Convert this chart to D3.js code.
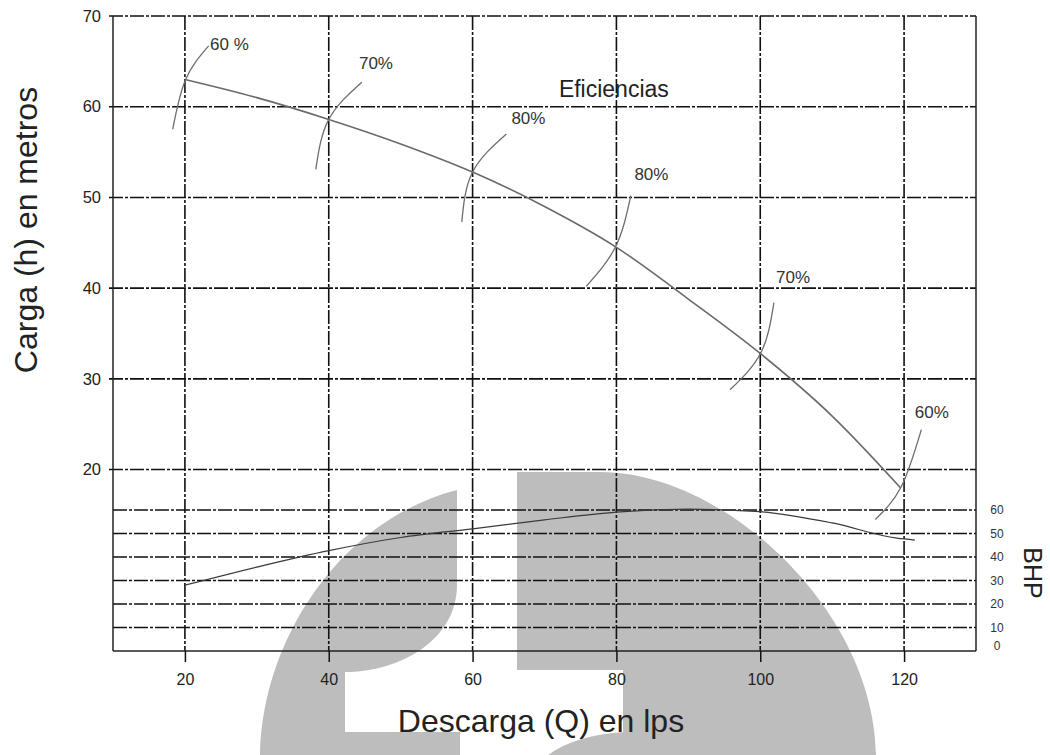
<!DOCTYPE html>
<html>
<head>
<meta charset="utf-8">
<script src="https://cdn.jsdelivr.net/npm/d3@7"></script>
<style>
  html, body { margin: 0; padding: 0; background: #fff; }
  svg { display: block; font-family: "Liberation Sans", Arial, Helvetica, sans-serif; }
</style>
</head>
<body>
<svg id="chart" width="1050" height="755"></svg>
<script>
// ---- Pump characteristic data ----
const qTicks    = [20, 40, 60, 80, 100, 120];          // discharge, lps
const headTicks = [20, 30, 40, 50, 60, 70];            // head, m
const bhpTicks  = [0, 10, 20, 30, 40, 50, 60];         // brake horsepower

// Head curve H(Q)
const headQ = [20, 30, 40, 50, 60, 70, 80, 90, 100, 110, 119.5];
const headH = [63.0, 61.0, 58.6, 55.9, 52.8, 49.0, 44.5, 38.8, 32.8, 25.9, 18.0];

// Power curve BHP(Q)
const bhpQ = [20, 30, 40, 50, 60, 70, 80, 90, 100, 110, 119, 121.5];
const bhpV = [28.0, 35.7, 42.7, 48.3, 52.0, 55.8, 59.1, 60.4, 59.3, 54.5, 48.0, 47.2];

// Efficiency arcs crossing the head curve: [Q, H] points of each arc
const effArcs = [
  [[18.3, 57.5], [20.1, 63.0], [23.3, 66.7]],
  [[38.2, 53.1], [40.0, 58.6], [44.6, 62.7]],
  [[58.5, 47.3], [60.0, 52.8], [64.7, 57.0]],
  [[75.8, 40.2], [79.9, 44.6], [82.0, 50.2]],
  [[95.8, 28.8], [100.1, 32.9], [101.9, 38.4]],
  [[116.0, 14.5], [119.6, 18.1], [122.4, 24.4]]
];
const effLabels = ["60 %", "70%", "80%", "80%", "70%", "60%"];
const effLabelQ = [23.5, 44.2, 65.4, 82.5, 102.2, 121.5];
const effLabelH = [66.9, 64.8, 58.7, 52.6, 41.2, 26.3];

// ---- Layout ----
const plot = { left: 113, right: 976, top: 16, bottom: 651, bhpTop: 510 };
const svg = d3.select("#chart");

const x  = d3.scaleLinear().domain([10, 130]).range([plot.left, plot.right]);
const yH = d3.scaleLinear().domain([0, 70]).range([plot.bottom, plot.top]);
const yB = d3.scaleLinear().domain([0, 60]).range([plot.bottom, plot.bhpTop]);

// ---- Background logo (decorative, grey) ----
const logo = svg.append("g").attr("fill", "#bdbdbd");
logo.append("path").attr("d",
  "M260,755 C262,640 340,520 457,490 L457,585 C457,640 400,672 345,672 L345,732 L460,732 L460,755 Z");
logo.append("path").attr("d",
  "M517,472 L600,472 C725,472 874,610 876,755 L623,755 L623,670 L517,670 Z");
logo.append("path").attr("d",
  "M548,755 Q575,735 625,732 L625,755 Z");

// ---- Grid ----
const gridStyle = sel => sel
  .attr("stroke", "#111")
  .attr("stroke-width", 1.6)
  .attr("stroke-dasharray", "14,2,3,2")
  .attr("fill", "none");

const grid = svg.append("g");
grid.selectAll("line.hg").data(headTicks).join("line")
  .attr("class", "hg")
  .attr("x1", plot.left - 4).attr("x2", plot.right)
  .attr("y1", d => yH(d)).attr("y2", d => yH(d))
  .call(gridStyle);
grid.selectAll("line.bg").data(bhpTicks.filter(d => d > 0)).join("line")
  .attr("class", "bg")
  .attr("x1", plot.left).attr("x2", plot.right)
  .attr("y1", d => yB(d)).attr("y2", d => yB(d))
  .call(gridStyle);
grid.selectAll("line.vg").data(qTicks).join("line")
  .attr("class", "vg")
  .attr("x1", d => x(d)).attr("x2", d => x(d))
  .attr("y1", plot.top).attr("y2", plot.bottom)
  .call(gridStyle);

// Frame
const frame = svg.append("g").attr("stroke", "#222").attr("stroke-width", 1.5).attr("fill", "none");
frame.append("line").attr("x1", plot.left).attr("x2", plot.left).attr("y1", plot.top).attr("y2", plot.bottom);
frame.append("line").attr("x1", plot.right).attr("x2", plot.right).attr("y1", plot.top).attr("y2", plot.bottom);
frame.append("line").attr("x1", plot.left).attr("x2", plot.right).attr("y1", plot.bottom).attr("y2", plot.bottom);

// ---- Axes ----
const xAxis = svg.append("g")
  .attr("transform", `translate(0,${plot.bottom})`)
  .call(d3.axisBottom(x).tickValues(qTicks).tickSize(11).tickPadding(12));
xAxis.select(".domain").remove();
xAxis.selectAll(".tick line").attr("stroke", "#111").attr("stroke-width", 1.5);
xAxis.selectAll(".tick text").attr("font-size", 16).attr("fill", "#222")
  .attr("font-family", "Liberation Sans, Arial, sans-serif");

const yAxis = svg.append("g")
  .attr("transform", `translate(${plot.left},0)`)
  .call(d3.axisLeft(yH).tickValues(headTicks).tickSize(0).tickPadding(12));
yAxis.select(".domain").remove();
yAxis.selectAll(".tick text").attr("font-size", 16.5).attr("fill", "#222")
  .attr("font-family", "Liberation Sans, Arial, sans-serif");

const bAxis = svg.append("g")
  .attr("transform", `translate(${plot.right},0)`)
  .call(d3.axisRight(yB).tickValues(bhpTicks).tickSize(0).tickPadding(21));
bAxis.select(".domain").remove();
bAxis.selectAll(".tick text")
  .attr("font-size", 12).attr("fill", "#333")
  .attr("text-anchor", "middle")
  .attr("font-family", "Liberation Sans, Arial, sans-serif")
  .attr("dy", d => d === 0 ? "-0.15em" : "0.32em");

// ---- Curves ----
const headLine = d3.line().x(d => x(d[0])).y(d => yH(d[1])).curve(d3.curveMonotoneX);
svg.append("path")
  .datum(headQ.map((q, i) => [q, headH[i]]))
  .attr("d", headLine)
  .attr("fill", "none").attr("stroke", "#6a6a6a").attr("stroke-width", 1.6);

const bhpLine = d3.line().x(d => x(d[0])).y(d => yB(d[1])).curve(d3.curveMonotoneX);
svg.append("path")
  .datum(bhpQ.map((q, i) => [q, bhpV[i]]))
  .attr("d", bhpLine)
  .attr("fill", "none").attr("stroke", "#3a3a3a").attr("stroke-width", 1.2);

const arcLine = d3.line().x(d => x(d[0])).y(d => yH(d[1])).curve(d3.curveNatural);
svg.append("g").selectAll("path").data(effArcs).join("path")
  .attr("d", arcLine)
  .attr("fill", "none").attr("stroke", "#6e6e6e").attr("stroke-width", 1.3);

svg.append("g").selectAll("text").data(effLabels).join("text")
  .attr("x", (d, i) => x(effLabelQ[i]))
  .attr("y", (d, i) => yH(effLabelH[i]))
  .attr("dy", "0.35em")
  .attr("font-size", 17).attr("fill", "#333")
  .text(d => d);

svg.append("text")
  .attr("x", x(72)).attr("y", yH(62.0)).attr("dy", "0.35em")
  .attr("font-size", 23).attr("fill", "#222")
  .text("Eficiencias");

// ---- Titles ----
svg.append("text")
  .attr("transform", "translate(37,230) rotate(-90)")
  .attr("text-anchor", "middle")
  .attr("font-size", 32).attr("fill", "#222")
  .text("Carga (h) en metros");

svg.append("text")
  .attr("x", 541).attr("y", 732)
  .attr("text-anchor", "middle")
  .attr("font-size", 32).attr("fill", "#222")
  .text("Descarga (Q) en lps");

svg.append("text")
  .attr("transform", "translate(1024,573) rotate(90)")
  .attr("text-anchor", "middle")
  .attr("font-size", 25).attr("fill", "#222")
  .text("BHP");
</script>
</body>
</html>
